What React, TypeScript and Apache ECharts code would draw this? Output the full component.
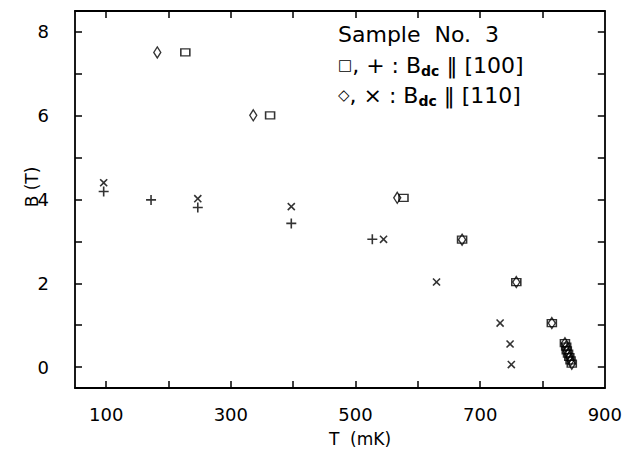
import React, { useEffect, useRef } from "react";
import * as echarts from "echarts";

// T (mK) and B (T)
const squareT = [227, 363, 577, 671, 758, 815, 836, 838, 839, 841, 843, 845, 847];
const squareB = [7.51, 6.01, 4.04, 3.04, 2.03, 1.05, 0.57, 0.49, 0.4, 0.32, 0.24, 0.16, 0.08];
const diamondT = [182, 336, 567, 671, 758, 815, 836, 838, 839, 841, 843, 845, 847];
const diamondB = [7.51, 6.01, 4.04, 3.04, 2.03, 1.05, 0.57, 0.49, 0.4, 0.32, 0.24, 0.16, 0.08];
const plusT = [96, 172, 247, 397, 527];
const plusB = [4.19, 3.99, 3.81, 3.43, 3.05];
const crossT = [96, 247, 397, 545, 630, 732, 748, 750];
const crossB = [4.4, 4.02, 3.83, 3.05, 2.03, 1.05, 0.55, 0.06];

const xTicks = [100, 200, 300, 400, 500, 600, 700, 800];
const xLabels = [100, 300, 500, 700, 900];
const yTicks = [0, 1, 2, 3, 4, 5, 6, 7, 8];
const yLabels = [0, 2, 4, 6, 8];

const FONT = '"DejaVu Sans", sans-serif';
const PLUS = "path://M4.2,0H5.8V4.2H10V5.8H5.8V10H4.2V5.8H0V4.2H4.2Z";

const zip = (a: number[], b: number[]) => a.map((v, i) => [v, b[i]]);

export default function App() {
  const ref = useRef<HTMLDivElement>(null);
  useEffect(() => {
    if (!ref.current) return;
    const chart = echarts.init(ref.current, null, { renderer: "svg" });
    const axisLine = { show: true, onZero: false, lineStyle: { color: "#000", width: 1.8 } };
    const tickStyle = { color: "#000", width: 1.5 };
    const labelStyle = { color: "#000", fontSize: 18, fontFamily: FONT };
    const open = { color: "rgba(0,0,0,0)", borderColor: "#000", borderWidth: 1.4 };
    const richLegend = {
      s: { fontSize: 15, fontFamily: FONT, lineHeight: 24, fill: "#000" },
      sub: { fontSize: 14, fontWeight: "bold", fontFamily: FONT, lineHeight: 14, verticalAlign: "bottom", fill: "#000" },
    };
    chart.setOption({
      animation: false,
      backgroundColor: "#fff",
      grid: { left: 75, right: 20, top: 11, bottom: 64 },
      xAxis: [
        {
          type: "value", min: 50, max: 900, position: "bottom",
          axisLine, splitLine: { show: false },
          axisTick: { show: true, inside: true, length: 7, customValues: xTicks, lineStyle: tickStyle },
          axisLabel: { ...labelStyle, margin: 17, customValues: xLabels, showMaxLabel: true },
        },
        {
          type: "value", min: 50, max: 900, position: "top",
          axisLine, splitLine: { show: false },
          axisTick: { show: true, inside: true, length: 7, customValues: xTicks, lineStyle: tickStyle },
          axisLabel: { show: false },
        },
      ],
      yAxis: [
        {
          type: "value", min: -0.5, max: 8.5, position: "left",
          axisLine, splitLine: { show: false },
          axisTick: { show: true, inside: true, length: 7, customValues: yTicks, lineStyle: tickStyle },
          axisLabel: { ...labelStyle, margin: 26, customValues: yLabels },
        },
        {
          type: "value", min: -0.5, max: 8.5, position: "right",
          axisLine, splitLine: { show: false },
          axisTick: { show: true, inside: true, length: 7, customValues: yTicks, lineStyle: tickStyle },
          axisLabel: { show: false },
        },
      ],
      series: [
        {
          name: "square [100]", type: "scatter", data: zip(squareT, squareB),
          symbol: "rect", symbolSize: [9, 7], itemStyle: open,
        },
        {
          name: "diamond [110]", type: "scatter", data: zip(diamondT, diamondB),
          symbol: "diamond", symbolSize: [7, 11], itemStyle: open,
        },
        {
          name: "plus [100]", type: "scatter", data: zip(plusT, plusB),
          symbol: PLUS, symbolSize: 10, itemStyle: { color: "#000" },
        },
        {
          name: "cross [110]", type: "scatter", data: zip(crossT, crossB),
          symbol: PLUS, symbolSize: 10, symbolRotate: 45, itemStyle: { color: "#000" },
        },
      ],
      graphic: [
        {
          type: "text", x: 360, y: 439,
          style: { text: "T  (mK)", font: `17px ${FONT}`, fill: "#000", align: "center", verticalAlign: "middle" },
        },
        {
          type: "text", x: 32, y: 187, rotation: Math.PI / 2,
          style: { text: "B (T)", font: `17px ${FONT}`, fill: "#000", align: "center", verticalAlign: "middle" },
        },
        {
          type: "text", x: 338, y: 34,
          style: { text: "Sample  No.  3", font: `22px ${FONT}`, fill: "#000", align: "left", verticalAlign: "middle" },
        },
        {
          type: "text", x: 338, y: 65,
          style: {
            text: "{s|□}, + : B{sub|dc} ‖ [100]",
            font: `22px ${FONT}`, fill: "#000", align: "left", verticalAlign: "middle",
            rich: richLegend, lineHeight: 26,
          },
        },
        {
          type: "text", x: 338, y: 95,
          style: {
            text: "{s|◇}, × : B{sub|dc} ‖ [110]",
            font: `22px ${FONT}`, fill: "#000", align: "left", verticalAlign: "middle",
            rich: richLegend, lineHeight: 26,
          },
        },
      ],
    });
    return () => chart.dispose();
  }, []);
  return <div ref={ref} style={{ width: 625, height: 452, position: "absolute", left: 0, top: 0 }} />;
}
